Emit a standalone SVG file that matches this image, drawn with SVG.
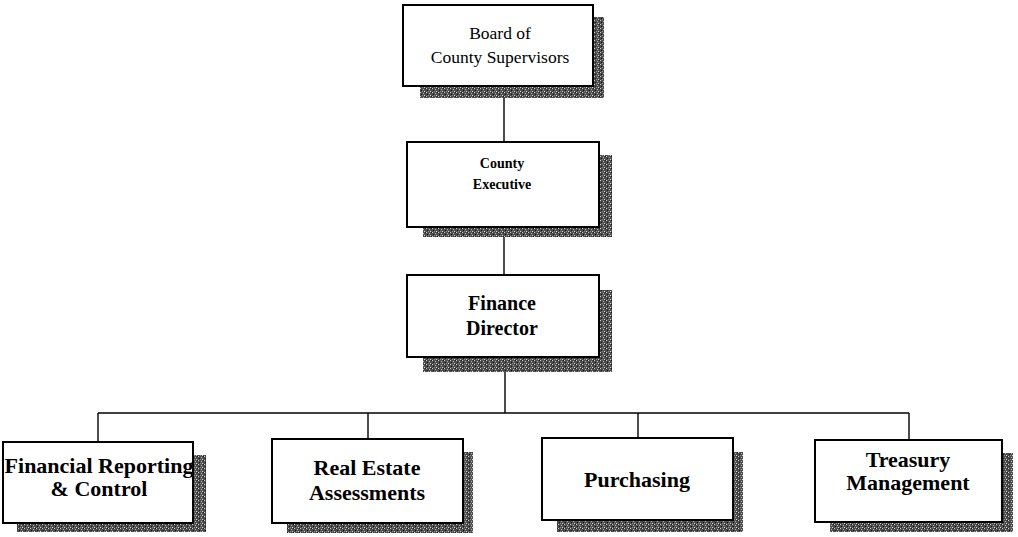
<svg xmlns="http://www.w3.org/2000/svg" width="1018" height="537" viewBox="0 0 1018 537">
  <defs>
    <!-- grainy halftone used for the drop shadows -->
    <pattern id="grain" width="6" height="4" patternUnits="userSpaceOnUse">
      <rect width="6" height="4" fill="#4e4e4e"/>
      <rect x="0" y="0" width="1" height="1" fill="#d0d0d0"/>
      <rect x="3" y="1" width="1" height="1" fill="#b8b8b8"/>
      <rect x="1" y="2" width="1" height="1" fill="#111111"/>
      <rect x="4" y="3" width="1" height="1" fill="#d8d8d8"/>
      <rect x="5" y="0" width="1" height="1" fill="#1a1a1a"/>
      <rect x="2" y="3" width="1" height="1" fill="#8a8a8a"/>
    </pattern>
  </defs>
  <style>
    .shadow { fill: url(#grain); }
    .box { fill: #ffffff; stroke: #000000; stroke-width: 2; }
    .conn { fill: none; stroke: #000000; stroke-width: 1.4; }
    text { font-family: "Liberation Serif", "Times New Roman", serif; fill: #000000; text-anchor: middle; }
    .small { font-size: 17.5px; }
    .mid { font-size: 14px; font-weight: bold; }
    .big { font-size: 20px; font-weight: bold; }
    .dept { font-size: 22px; font-weight: bold; }
  </style>
  <rect width="1018" height="537" fill="#ffffff"/>

  <g id="connectors">
    <line class="conn" x1="504" y1="86" x2="504" y2="142"/>
    <line class="conn" x1="504" y1="227" x2="504" y2="275"/>
    <line class="conn" x1="505" y1="357" x2="505" y2="413"/>
    <line class="conn" x1="98" y1="413" x2="909" y2="413"/>
    <line class="conn" x1="98" y1="413" x2="98" y2="442"/>
    <line class="conn" x1="368" y1="413" x2="368" y2="439"/>
    <line class="conn" x1="638" y1="413" x2="638" y2="438"/>
    <line class="conn" x1="909" y1="413" x2="909" y2="440"/>
  </g>

  <g id="board">
    <rect class="shadow" x="420" y="17" width="184" height="81"/>
    <rect class="box" x="403" y="5" width="190" height="81"/>
    <text class="small" x="500" y="39">Board of</text>
    <text class="small" x="500" y="63">County Supervisors</text>
  </g>

  <g id="county-executive">
    <rect class="shadow" x="423" y="155" width="189" height="82"/>
    <rect class="box" x="407" y="142" width="192" height="85"/>
    <text class="mid" x="502" y="168">County</text>
    <text class="mid" x="502" y="189">Executive</text>
  </g>

  <g id="finance-director">
    <rect class="shadow" x="423" y="290" width="189" height="82"/>
    <rect class="box" x="407" y="275" width="192" height="82"/>
    <text class="big" x="502" y="310">Finance</text>
    <text class="big" x="502" y="335">Director</text>
  </g>

  <g id="financial-reporting">
    <rect class="shadow" x="17" y="455" width="189" height="77"/>
    <rect class="box" x="3" y="442" width="190" height="81"/>
    <text class="dept" x="99" y="473">Financial Reporting</text>
    <text class="dept" x="99" y="496">&amp; Control</text>
  </g>

  <g id="real-estate">
    <rect class="shadow" x="287" y="452" width="186" height="81"/>
    <rect class="box" x="272" y="439" width="191" height="84"/>
    <text class="dept" x="367" y="475">Real Estate</text>
    <text class="dept" x="367" y="500">Assessments</text>
  </g>

  <g id="purchasing">
    <rect class="shadow" x="557" y="452" width="186" height="80"/>
    <rect class="box" x="542" y="438" width="191" height="82"/>
    <text class="dept" x="637" y="487">Purchasing</text>
  </g>

  <g id="treasury">
    <rect class="shadow" x="830" y="453" width="183" height="79"/>
    <rect class="box" x="815" y="440" width="187" height="82"/>
    <text class="dept" x="908" y="467">Treasury</text>
    <text class="dept" x="908" y="490">Management</text>
  </g>
</svg>
